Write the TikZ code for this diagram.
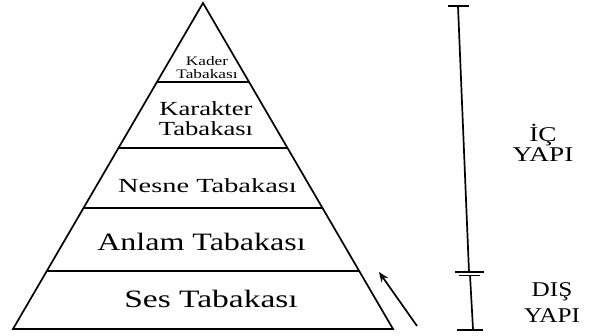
\documentclass[tikz,border=0pt]{standalone}
\usepackage{fontspec}
\setmainfont{Liberation Serif}
\usetikzlibrary{calc,arrows.meta}
\newcommand{\sx}[2]{\scalebox{#1}[1]{#2}}
\begin{document}
\begin{tikzpicture}[x=1pt,y=-1pt,line width=1.7pt,
  lbl/.style={inner sep=0pt,align=center,text=black}]
\useasboundingbox (0,0) rectangle (589,336);
% pyramid
\coordinate (A) at (203,3);
\coordinate (BL) at (13,329);
\coordinate (BR) at (393,329);
\draw[line join=miter] (BL) -- (A) -- (BR) -- cycle;
\foreach \t in {0.242,0.445,0.629,0.822}
  \draw ($(A)!\t!(BL)$) -- ($(A)!\t!(BR)$);
% labels
\node[lbl,font=\fontsize{13}{13}\selectfont] (kader) at (207,67.5) {\sx{1.33}{Kader}\\\sx{1.33}{Tabakası}};
\node[lbl,font=\fontsize{20}{20}\selectfont] (karakter) at (206,119) {\sx{1.33}{Karakter}\\\sx{1.33}{Tabakası}};
\node[lbl,font=\fontsize{20}{20}\selectfont] (nesne) at (207.5,186) {\sx{1.42}{Nesne Tabakası}};
\node[lbl,font=\fontsize{25}{25}\selectfont] (anlam) at (201.5,241.5) {\sx{1.28}{Anlam Tabakası}};
\node[lbl,font=\fontsize{25}{25}\selectfont] (ses) at (211,298.5) {\sx{1.34}{Ses Tabakası}};
\node[lbl,font=\fontsize{21}{16}\selectfont] (ic) at (543,143) {\sx{1.3}{İÇ}\\\sx{1.3}{YAPI}};
\node[lbl,font=\fontsize{21}{26}\selectfont] (dis) at (552,303) {\sx{1.2}{DIŞ}\\\sx{1.2}{YAPI}};
% arrow
\coordinate (a1) at (417,326);
\coordinate (a2) at (379,272);
\draw[-{Stealth[length=10pt,width=8pt]}] (a1) -- (a2);
% scale bar
\coordinate (t0) at (458,6);
\coordinate (t1) at (469,272);
\coordinate (b0) at (470,275);
\coordinate (b1) at (473,329);
\draw (t0) -- (t1);
\draw (b0) -- (b1);
\draw (448,6) -- (469,6);
\draw (457,330) -- (483,330);
\draw (455,272) -- (484,272);
\draw (459,275.5) -- (480,275.5);
\end{tikzpicture}
\end{document}
